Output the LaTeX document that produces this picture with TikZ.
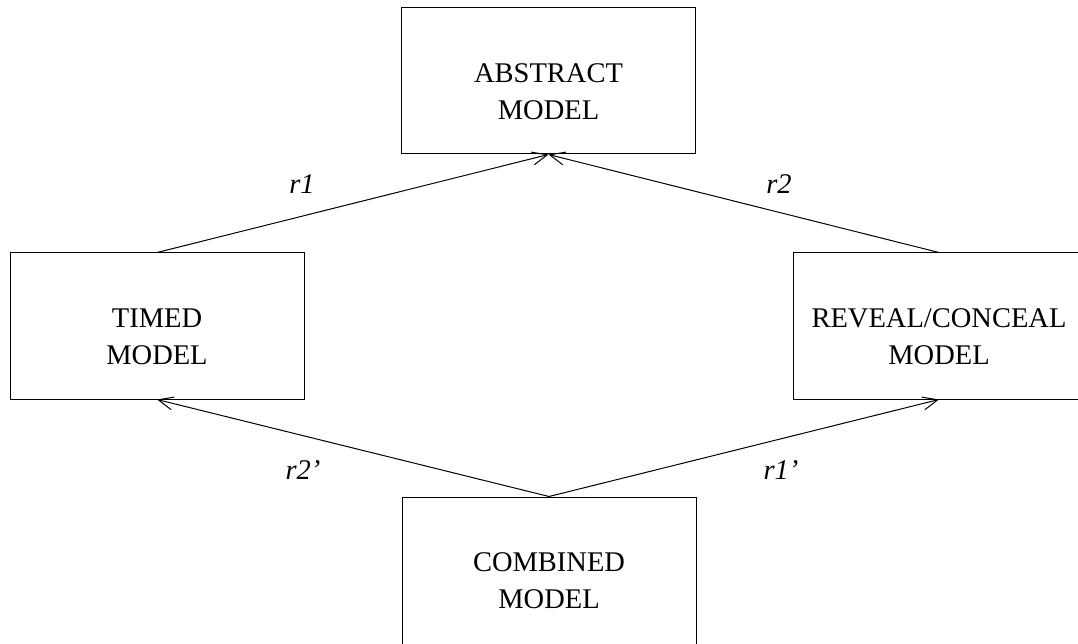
\documentclass[tikz,border=0pt]{standalone}
\usepackage{fontspec}
\setmainfont{Liberation Serif}
\usetikzlibrary{arrows.meta}
\begin{document}
\begin{tikzpicture}[x=1pt,y=-1pt,
  box/.style={draw, line width=1pt, minimum width=294pt, minimum height=146pt,
    align=center, inner sep=0pt, text height=77pt, text depth=0pt,
    font=\fontsize{28.5}{37}\selectfont},
  conn/.style={line width=1pt, -{Straight Barb[length=15pt,width=13pt,line width=1pt]}},
  lbl/.style={font=\fontsize{28.5}{34}\selectfont\itshape}]
\useasboundingbox (0,0) rectangle (1078,644);
\clip (0,0) rectangle (1078,644);
\node[box] (abs) at (548.5,81) {ABSTRACT\\MODEL};
\node[box] (tim) at (157,326) {TIMED\\MODEL};
\node[box, minimum width=292pt] (rev) at (939,326) {REVEAL/CONCEAL\\MODEL};
\node[box, minimum height=150pt, text height=72pt] (com) at (549,572) {COMBINED\\MODEL};
\draw[conn] (tim.north) -- (abs.south);
\draw[conn] (rev.north) -- (abs.south);
\draw[conn] (com.north) -- (tim.south);
\draw[conn] (com.north) -- (rev.south);
\node[lbl] (l1) at (302,184) {r1};
\node[lbl] (l2) at (779,184) {r2};
\node[lbl] (l3) at (303,470) {r2'};
\node[lbl] (l4) at (781,470) {r1'};
\end{tikzpicture}
\end{document}
